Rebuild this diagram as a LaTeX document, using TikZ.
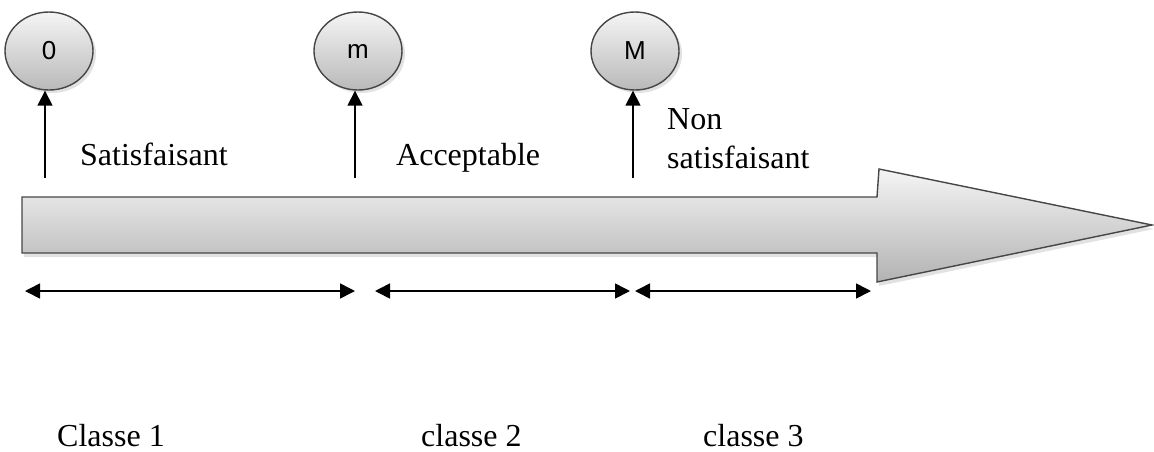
\documentclass[tikz,border=0pt]{standalone}
\usepackage{fontspec}
\setmainfont{Liberation Serif}
\newfontfamily\lblsans{Liberation Sans}
\usetikzlibrary{shapes.geometric,arrows.meta,shadows}
\tikzset{
  valnode/.style={ellipse, draw=gray!55!black, line width=1.4pt, minimum width=88pt, minimum height=78pt, inner sep=0pt,
    top color=gray!8, bottom color=gray!55, drop shadow={shadow xshift=3pt, shadow yshift=-3pt, fill=gray!45},
    font=\lblsans\fontsize{26}{30}\selectfont},
  txt/.style={inner sep=0pt, anchor=base west, font=\fontsize{32}{38}\selectfont},
  tick/.style={line width=1.6pt, -{Triangle[length=15pt,width=15pt]}},
  span/.style={line width=1.6pt, {Triangle[length=15pt,width=15pt]}-{Triangle[length=15pt,width=15pt]}},
}
\begin{document}
\begin{tikzpicture}[x=1pt,y=-1pt]
\useasboundingbox (0,0) rectangle (1154,451);
% big arrow
\path[draw=gray!55!black, line width=1.4pt, top color=gray!8, bottom color=gray!60,
  drop shadow={shadow xshift=2pt, shadow yshift=-4pt, fill=gray!45}]
  (22,197) -- (877,197) -- (879,169) -- (1152,225) -- (877,282) -- (877,253) -- (22,253) -- cycle;
% value nodes
\node[valnode] (e0) at (49,51) {0};
\node[valnode] (e1) at (358,51) {m};
\node[valnode] (e2) at (635,51) {M};
% vertical arrows
\coordinate (b0) at (45,178);
\coordinate (b1) at (355,178);
\coordinate (b2) at (633,178);
\draw[tick] (b0) -- (b0 |- e0.south);
\draw[tick] (b1) -- (b1 |- e1.south);
\draw[tick] (b2) -- (b2 |- e2.south);
% labels
\node[txt] (t0) at (80,165) {Satisfaisant};
\node[txt] (t1) at (396,165) {Acceptable};
\node[txt] (t2a) at (667,129) {Non};
\node[txt] (t2b) at (667,168) {satisfaisant};
% class spans
\coordinate (d0) at (25,291);
\coordinate (d1) at (355,291);
\coordinate (d2) at (375,291);
\coordinate (d3) at (630,291);
\coordinate (d4) at (635,291);
\coordinate (d5) at (871,291);
\draw[span] (d0) -- (d1);
\draw[span] (d2) -- (d3);
\draw[span] (d4) -- (d5);
% class labels
\node[txt] (c1) at (57,446) {Classe 1};
\node[txt] (c2) at (421,446) {classe 2};
\node[txt] (c3) at (703,446) {classe 3};
\end{tikzpicture}
\end{document}
